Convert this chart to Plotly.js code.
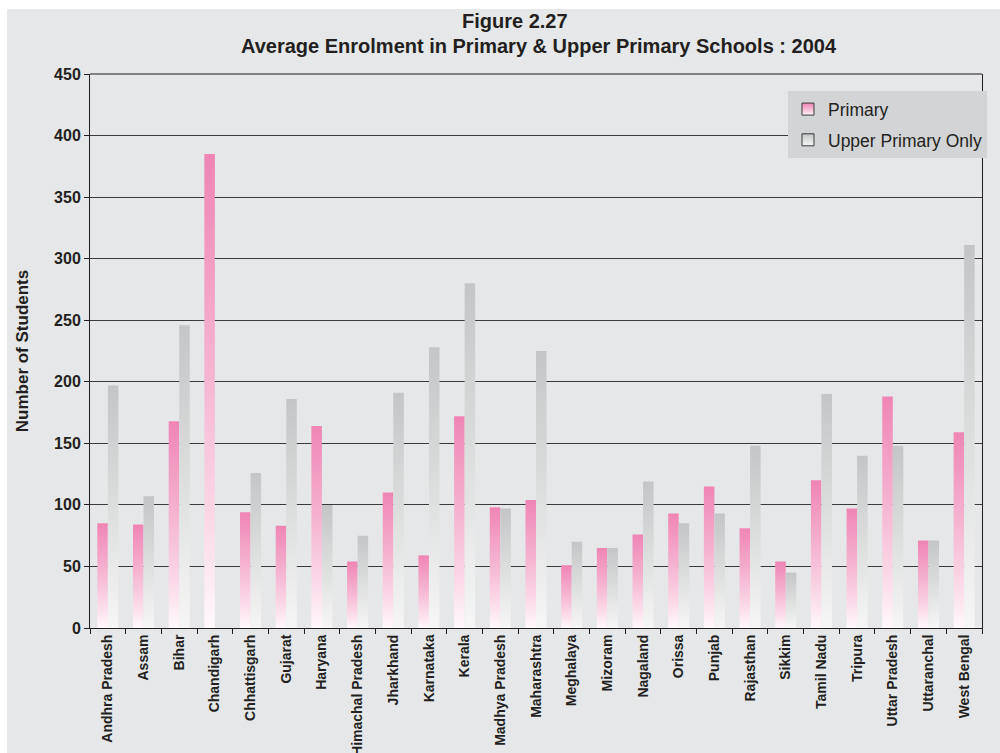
<!DOCTYPE html>
<html>
<head>
<meta charset="utf-8">
<script src="https://cdn.plot.ly/plotly-3.0.1.min.js"></script>
<style>
  html, body { margin: 0; padding: 0; background: #ffffff; width: 1000px; height: 753px; overflow: hidden; }
  #chart { position: absolute; left: 7px; top: 9px; width: 993px; height: 744px; }
</style>
</head>
<body>
<div id="chart"></div>
<script>
const states = ["Andhra Pradesh","Assam","Bihar","Chandigarh","Chhattisgarh","Gujarat","Haryana","Himachal Pradesh","Jharkhand","Karnataka","Kerala","Madhya Pradesh","Maharashtra","Meghalaya","Mizoram","Nagaland","Orissa","Punjab","Rajasthan","Sikkim","Tamil Nadu","Tripura","Uttar Pradesh","Uttaranchal","West Bengal"];
const primary = [85, 84, 168, 385, 94, 83, 164, 54, 110, 59, 172, 98, 104, 51, 65, 76, 93, 115, 81, 54, 120, 97, 188, 71, 159];
const upperPrimaryOnly = [197, 107, 246, 0, 126, 186, 100, 75, 191, 228, 280, 97, 225, 70, 65, 119, 85, 93, 148, 45, 190, 140, 148, 71, 311];

const FONT = "Liberation Sans, Arial, Helvetica, sans-serif";
const INK = "#231f20";

const traces = [
  { type: "bar", name: "Primary", x: states, y: primary, legendgroup: "p",
    marker: { color: "#f48fbc", line: { width: 0 } }, hoverinfo: "x+y" },
  { type: "bar", name: "Upper Primary Only", x: states, y: upperPrimaryOnly, legendgroup: "u",
    marker: { color: "#d0d0d1", line: { width: 0 } }, hoverinfo: "x+y" }
];

const layout = {
  width: 993, height: 744,
  margin: { l: 83, r: 18, t: 65, b: 125 },
  paper_bgcolor: "#e6e7e8",
  plot_bgcolor: "#e6e7e8",
  font: { family: FONT, color: INK },
  barmode: "group",
  bargap: 0.41,
  bargroupgap: 0,
  showlegend: true,
  legend: {
    x: 0.7825, xanchor: "left", y: 0.969, yanchor: "top",
    bgcolor: "#d3d4d6", borderwidth: 0,
    font: { family: FONT, size: 17.5, color: INK },
    traceorder: "grouped", tracegroupgap: 5,
    itemclick: false, itemdoubleclick: false
  },
  xaxis: {
    type: "category",
    showgrid: false, zeroline: false,
    showline: true, linecolor: "#231f20", linewidth: 1,
    mirror: false,
    ticks: "outside", ticklen: 5, tickcolor: "#231f20", tickson: "boundaries",
    tickangle: -90,
    tickfont: { family: FONT, size: 14, color: INK, weight: "bold" }
  },
  yaxis: {
    range: [0, 450], dtick: 50, tick0: 0,
    showgrid: true, gridcolor: "#3a3a3a", gridwidth: 1,
    zeroline: false,
    showline: true, linecolor: "#231f20", linewidth: 1, mirror: true,
    ticks: "outside", ticklen: 5, tickcolor: "#231f20",
    tickfont: { family: FONT, size: 16, color: INK, weight: "bold" },
    title: { text: "Number of Students", standoff: 21,
             font: { family: FONT, size: 17, color: INK, weight: "bold" } }
  },
  shapes: [
    { type: "line", xref: "paper", yref: "paper", x0: 0, x1: 1, y0: 1, y1: 1,
      line: { color: "#808080", width: 2 } }
  ],
  annotations: [
    { text: "<b>Figure 2.27</b>", xref: "paper", yref: "paper", x: 0.4765, y: 1.0957,
      xanchor: "center", yanchor: "middle", showarrow: false,
      font: { family: FONT, size: 20, color: INK } },
    { text: "<b>Average Enrolment in Primary & Upper Primary Schools : 2004</b>", xref: "paper", yref: "paper",
      x: 0.5034, y: 1.0505, xanchor: "center", yanchor: "middle", showarrow: false,
      font: { family: FONT, size: 20, color: INK } }
  ]
};

function applyGradients(gd) {
  const svg = gd.querySelector("svg.main-svg");
  const ns = "http://www.w3.org/2000/svg";
  let defs = svg.querySelector("defs");
  if (!defs) { defs = document.createElementNS(ns, "defs"); svg.insertBefore(defs, svg.firstChild); }
  function grad(id, stops) {
    const g = document.createElementNS(ns, "linearGradient");
    g.setAttribute("id", id);
    g.setAttribute("x1", "0"); g.setAttribute("y1", "0");
    g.setAttribute("x2", "0"); g.setAttribute("y2", "1");
    stops.forEach(([o, c]) => {
      const s = document.createElementNS(ns, "stop");
      s.setAttribute("offset", o); s.setAttribute("stop-color", c);
      g.appendChild(s);
    });
    defs.appendChild(g);
  }
  grad("gradPrimary", [["0", "#ef85b4"], ["0.45", "#f5b3d0"], ["0.8", "#fbdcea"], ["1", "#fff9fc"]]);
  grad("gradUpper", [["0", "#c4c5c6"], ["0.5", "#dcdddd"], ["1", "#f6f6f6"]]);
  const ids = ["gradPrimary", "gradUpper"];
  gd.querySelectorAll(".barlayer .trace.bars").forEach((t, i) => {
    t.querySelectorAll(".point path").forEach(p => { p.style.fill = "url(#" + ids[i] + ")"; });
  });
  gd.querySelectorAll(".legend .traces").forEach((t, i) => {
    t.querySelectorAll(".legendpoints path").forEach(p => {
      p.style.fill = "url(#" + ids[i] + ")";
      p.style.stroke = "#3a3a3a"; p.style.strokeWidth = "1px";
    });
  });
}

Plotly.newPlot("chart", traces, layout, { displayModeBar: false, responsive: false }).then(applyGradients);
</script>
</body>
</html>
